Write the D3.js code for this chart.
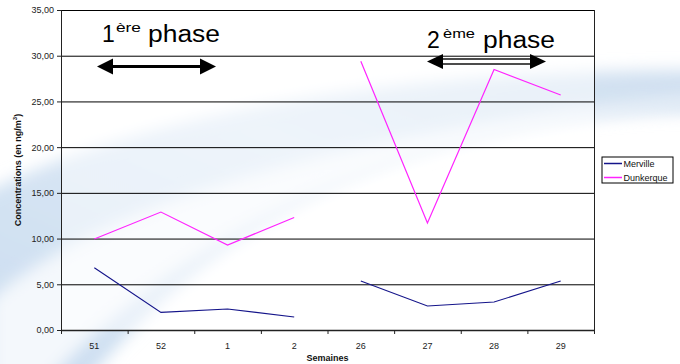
<!DOCTYPE html>
<html>
<head>
<meta charset="utf-8">
<script src="https://cdn.jsdelivr.net/npm/d3@7"></script>
<style>
  body { margin: 0; background: #fff; }
  svg { display: block; font-family: Arial, "Liberation Sans", sans-serif; }
</style>
</head>
<body>
<div id="chart"></div>
<script>
// weeks of the two measuring campaigns
const phase1Weeks = ["51", "52", "1", "2"];
const phase2Weeks = ["26", "27", "28", "29"];
const weeks = phase1Weeks.concat(phase2Weeks);

const merville = [6.81, 1.93, 2.30, 1.42, 5.36, 2.63, 3.06, 5.36];
const dunkerque = [9.95, 12.9, 9.30, 12.3, 29.4, 11.7, 28.5, 25.7];

const yTicks = [0, 5, 10, 15, 20, 25, 30, 35];
const seriesNames = ["Merville", "Dunkerque"];
const seriesColors = ["#14148a", "#ff22ff"];

const width = 680;
const height = 364;
const margin = {top: 10, right: 86, bottom: 34, left: 61};

const svg = d3.select("#chart")
    .append("svg")
    .attr("width", width)
    .attr("height", height);

// faint background swoosh
const defs = svg.append("defs");
defs.append("filter").attr("id", "blur")
    .attr("x", "-20%").attr("y", "-20%").attr("width", "140%").attr("height", "140%")
    .append("feGaussianBlur").attr("stdDeviation", 8);
const grad = defs.append("linearGradient").attr("id", "swoosh")
    .attr("x1", 0).attr("y1", 1).attr("x2", 1).attr("y2", 0);
grad.append("stop").attr("offset", 0).attr("stop-color", "#c9dcf0");
grad.append("stop").attr("offset", 0.6).attr("stop-color", "#dce8f5");
grad.append("stop").attr("offset", 1).attr("stop-color", "#cfdff0");

svg.append("path")
    .attr("d", "M-30,200 Q 220,70 710,70 L 710,112 Q 300,112 80,390 L -30,390 Z")
    .attr("fill", "url(#swoosh)")
    .attr("filter", "url(#blur)");
svg.append("path")
    .attr("d", "M-10,300 Q 160,150 710,95 L 710,102 Q 260,140 40,390 L -10,390 Z")
    .attr("fill", "#f4f8fc")
    .attr("filter", "url(#blur)");

const x = d3.scaleBand()
    .domain(weeks)
    .range([margin.left, width - margin.right]);

const y = d3.scaleLinear()
    .domain([0, 35])
    .range([height - margin.bottom, margin.top]);

// plot area (lets the swoosh show through faintly)
svg.append("rect")
    .attr("x", x.range()[0])
    .attr("y", y(35))
    .attr("width", x.range()[1] - x.range()[0])
    .attr("height", y(0) - y(35))
    .attr("fill", "#fff")
    .attr("opacity", 0.5);

// gridlines
svg.append("g")
    .selectAll("line")
    .data(yTicks.slice(1))
    .join("line")
    .attr("x1", x.range()[0])
    .attr("x2", x.range()[1])
    .attr("y1", d => y(d) + 0.5)
    .attr("y2", d => y(d) + 0.5)
    .attr("stroke", "#000")
    .attr("stroke-width", 1);

// right border
svg.append("line")
    .attr("x1", x.range()[1] + 0.5).attr("x2", x.range()[1] + 0.5)
    .attr("y1", y(35)).attr("y2", y(0))
    .attr("stroke", "#222");

// y axis
const yAxis = svg.append("g")
    .attr("transform", `translate(${x.range()[0]},0)`)
    .call(d3.axisLeft(y).tickValues(yTicks).tickSize(4).tickPadding(3)
        .tickFormat(d => d3.format(".2f")(d).replace(".", ",")));
yAxis.select(".domain").attr("stroke", "#222");
yAxis.selectAll(".tick line").attr("stroke", "#222");
yAxis.selectAll("text").attr("font-size", 9).attr("fill", "#222")
    .attr("font-family", "Arial, 'Liberation Sans', sans-serif");

// x axis, ticks between categories
const xAxis = svg.append("g")
    .attr("transform", `translate(0,${y(0)})`)
    .call(d3.axisBottom(x).tickSize(0).tickPadding(13));
xAxis.select(".domain").attr("stroke", "#222").attr("stroke-width", 1.5);
xAxis.selectAll("text").attr("font-size", 9).attr("fill", "#222")
    .attr("font-family", "Arial, 'Liberation Sans', sans-serif");
xAxis.append("g")
    .selectAll("line")
    .data(weeks.concat([null]))
    .join("line")
    .attr("x1", (d, i) => x.range()[0] + i * x.step() + 0.5)
    .attr("x2", (d, i) => x.range()[0] + i * x.step() + 0.5)
    .attr("y1", 0)
    .attr("y2", 4)
    .attr("stroke", "#222");

// series, split into the two phases
const line = d3.line()
    .x(d => x(d.week) + x.bandwidth() / 2)
    .y(d => y(d.value));

[merville, dunkerque].forEach((values, s) => {
    [phase1Weeks, phase2Weeks].forEach(phase => {
        const pts = phase.map(w => ({week: w, value: values[weeks.indexOf(w)]}));
        svg.append("path")
            .datum(pts)
            .attr("fill", "none")
            .attr("stroke", seriesColors[s])
            .attr("stroke-width", s === 0 ? 1.1 : 1.2)
            .attr("d", line);
    });
});

// axis titles
svg.append("text")
    .attr("transform", `translate(21,${(y(0) + y(35)) / 2}) rotate(-90)`)
    .attr("text-anchor", "middle")
    .attr("font-size", 9)
    .attr("font-weight", "bold")
    .attr("fill", "#111")
    .call(t => {
        t.append("tspan").text("Concentrations (en ng/m");
        t.append("tspan").attr("font-size", 6).attr("dy", -4).text("3");
        t.append("tspan").attr("dy", 4).text(")");
    });

svg.append("text")
    .attr("x", (x.range()[0] + x.range()[1]) / 2)
    .attr("y", 361)
    .attr("text-anchor", "middle")
    .attr("font-size", 9)
    .attr("font-weight", "bold")
    .attr("fill", "#111")
    .text("Semaines");

// phase labels
const phaseLabels = [
    {num: "1", sup: "ère", x: 102, base: 42, supX: 116, supW: 25, phaseX: 148},
    {num: "2", sup: "ème", x: 427, base: 48, supX: 443, supW: 32, phaseX: 483}
];
phaseLabels.forEach(p => {
    svg.append("text").attr("x", p.x).attr("y", p.base)
        .attr("font-size", 23).attr("fill", "#000").text(p.num);
    svg.append("text").attr("x", p.supX).attr("y", p.base - 10)
        .attr("font-size", 13).attr("fill", "#000")
        .attr("textLength", p.supW).attr("lengthAdjust", "spacingAndGlyphs")
        .text(p.sup);
    svg.append("text").attr("x", p.phaseX).attr("y", p.base)
        .attr("font-size", 23).attr("fill", "#000")
        .attr("textLength", 72).attr("lengthAdjust", "spacingAndGlyphs")
        .text("phase");
});

// double arrows
const arrows = [
    {x1: 97, x2: 216, cy: 66.5, head: 16, hh: 8, hollow: false},
    {x1: 427, x2: 546, cy: 61.5, head: 16, hh: 7.5, hollow: true}
];
arrows.forEach(a => {
    if (a.hollow) {
        svg.append("rect")
            .attr("x", a.x1 + a.head - 1).attr("y", a.cy - 2.5)
            .attr("width", a.x2 - a.x1 - 2 * a.head + 2).attr("height", 5)
            .attr("fill", "#fff").attr("stroke", "#000").attr("stroke-width", 1.4);
    } else {
        svg.append("line")
            .attr("x1", a.x1 + a.head - 1).attr("x2", a.x2 - a.head + 1)
            .attr("y1", a.cy).attr("y2", a.cy)
            .attr("stroke", "#000").attr("stroke-width", 3);
    }
    svg.append("path")
        .attr("d", `M${a.x1},${a.cy} L${a.x1 + a.head},${a.cy - a.hh} L${a.x1 + a.head},${a.cy + a.hh} Z`)
        .attr("fill", "#000");
    svg.append("path")
        .attr("d", `M${a.x2},${a.cy} L${a.x2 - a.head},${a.cy - a.hh} L${a.x2 - a.head},${a.cy + a.hh} Z`)
        .attr("fill", "#000");
});

// legend
const legend = svg.append("g").attr("transform", "translate(602,157)");
legend.append("rect")
    .attr("width", 71).attr("height", 26)
    .attr("fill", "#fff").attr("stroke", "#000").attr("stroke-width", 1);
seriesNames.forEach((name, i) => {
    const ly = 6.5 + i * 14;
    legend.append("line")
        .attr("x1", 2).attr("x2", 20).attr("y1", ly).attr("y2", ly)
        .attr("stroke", seriesColors[i]).attr("stroke-width", 1.5);
    legend.append("text")
        .attr("x", 21.5).attr("y", ly + 3.2)
        .attr("font-size", 9).attr("fill", "#111")
        .text(name);
});
</script>
</body>
</html>
